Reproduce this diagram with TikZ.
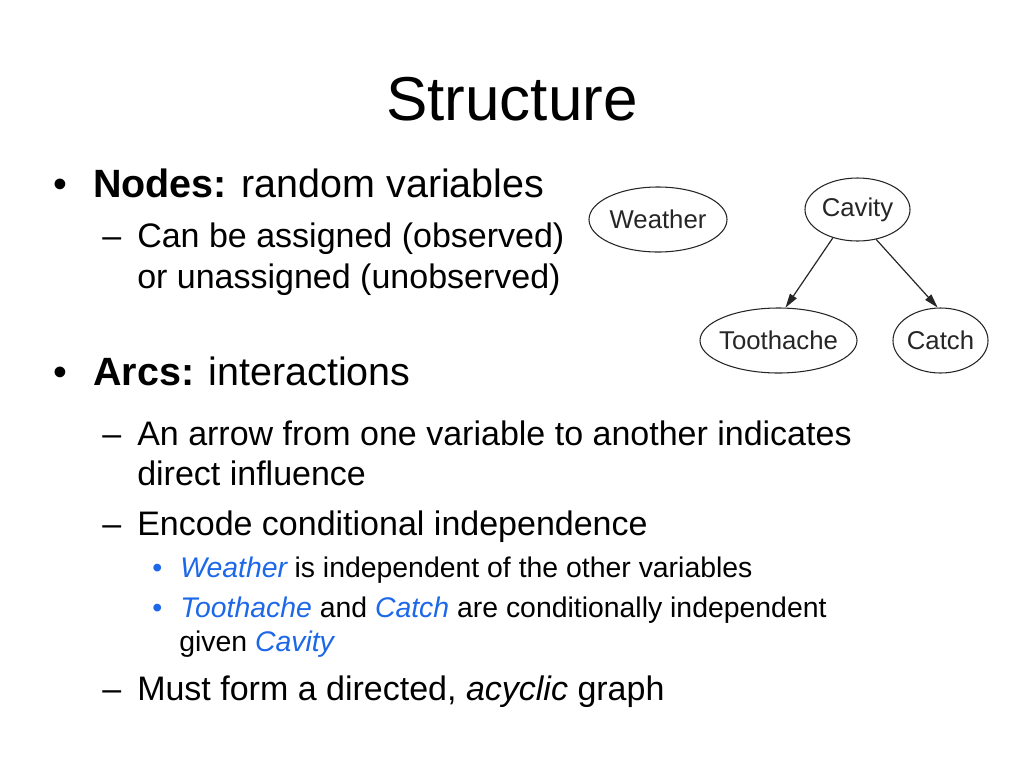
\documentclass[tikz,border=0pt]{standalone}
\usepackage{fontspec}
\setmainfont{Liberation Sans}
\usetikzlibrary{shapes.geometric,arrows.meta}
\definecolor{hlblue}{RGB}{28,104,232}
\newcommand{\hl}[1]{\textcolor{hlblue}{\textit{#1}}}
\tikzset{
  titletext/.style={inner sep=0pt, anchor=base, font=\fontsize{46.5pt}{56pt}\selectfont},
  lone/.style={inner sep=0pt, anchor=base west, font=\fontsize{29.6pt}{36pt}\selectfont},
  ltwo/.style={inner sep=0pt, anchor=base west, font=\fontsize{25.5pt}{31pt}\selectfont},
  lthree/.style={inner sep=0pt, anchor=base west, font=\fontsize{21.3pt}{26pt}\selectfont},
  var/.style={ellipse, draw=black!85, line width=0.8pt, inner sep=0pt,
    font=\fontsize{19.3pt}{23pt}\selectfont, text=black!85},
  infl/.style={draw=black!85, line width=0.9pt, -{Triangle[length=10.5pt,width=6pt]}}
}
\begin{document}
\begin{tikzpicture}[x=0.75pt,y=-0.75pt]
\useasboundingbox (0,0) rectangle (1024,768);
\node[titletext] (title) at (512,120) {Structure};
% level 1: Nodes
\node[lone] (b1) at (53,197) {•};
\node[lone] (t1) at (93,197) {\textbf{Nodes:} random variables};
\node[ltwo] (d1) at (102,247) {–};
\node[ltwo] (t2) at (137,247) {Can be assigned (observed)};
\node[ltwo] (t3) at (137,288) {or unassigned (unobserved)};
% level 1: Arcs
\node[lone] (b2) at (53,385) {•};
\node[lone] (t4) at (93,385) {\textbf{Arcs:} interactions};
\node[ltwo] (d2) at (102,445) {–};
\node[ltwo] (t5) at (137,445) {An arrow from one variable to another indicates};
\node[ltwo] (t6) at (137,485) {direct influence};
\node[ltwo] (d3) at (102,535) {–};
\node[ltwo] (t7) at (137,535) {Encode conditional independence};
\node[lthree, text=hlblue] (b3) at (152,577) {•};
\node[lthree] (t8) at (180,577) {\hl{Weather}\kern-1pt\ is independent of the other variables};
\node[lthree, text=hlblue] (b4) at (152,617) {•};
\node[lthree] (t9) at (180,617) {\hl{Toothache} and \hl{Catch} are conditionally independent};
\node[lthree] (t10) at (179,651) {given \hl{Cavity}};
\node[ltwo] (d4) at (102,700) {–};
\node[ltwo] (t11) at (137,700) {Must form a directed, \textit{acyclic} graph};
% graph
\node[var, minimum width=103.5pt, minimum height=48.75pt] (wea) at (658,219.5) {\makebox[0pt][c]{Weather}};
\node[var, minimum width=78.75pt, minimum height=47.25pt] (cav) at (857.5,209.5) {\makebox[0pt][c]{Cavity}};
\node[var, minimum width=117.75pt, minimum height=48.75pt] (too) at (778.5,340.5) {\makebox[0pt][c]{Toothache}};
\node[var, minimum width=71.25pt, minimum height=48.75pt] (cat) at (940.5,340.5) {\makebox[0pt][c]{Catch}};
\draw[infl] (cav.229) -- (too.78);
\draw[infl] (cav.302) -- (cat.95);
\end{tikzpicture}
\end{document}
